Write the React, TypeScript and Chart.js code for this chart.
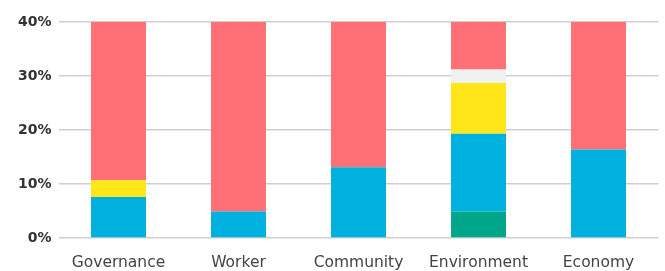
import React, { useEffect, useRef } from "react";
import { Chart, registerables } from "chart.js";

Chart.register(...registerables);

const categories = ["Governance", "Worker", "Community", "Environment", "Economy"];
const greenValues = [0, 0, 0, 4.9, 0];
const blueValues = [7.6, 4.9, 13.1, 14.4, 16.4];
const yellowValues = [3.1, 0, 0, 9.4, 0];
const greyValues = [0, 0, 0, 2.5, 0];
const redValues = [89.3, 95.1, 86.9, 68.8, 83.6];
const yTicks = [0, 10, 20, 30, 40];

export default function App() {
  const ref = useRef<HTMLCanvasElement | null>(null);
  useEffect(() => {
    document.body.style.margin = "0";
    const ctx = ref.current!;
    const mk = (label: string, data: number[], color: string) => ({
      label,
      data,
      backgroundColor: color,
      borderWidth: 0,
      categoryPercentage: 1,
      barPercentage: 0.458,
    });
    const chart = new Chart(ctx, {
      type: "bar",
      data: {
        labels: categories,
        datasets: [
          mk("green", greenValues, "#00a68a"),
          mk("blue", blueValues, "#00b0df"),
          mk("yellow", yellowValues, "#ffe619"),
          mk("grey", greyValues, "#eff0f0"),
          mk("red", redValues, "#ff6f76"),
        ],
      },
      options: {
        animation: false,
        responsive: false,
        maintainAspectRatio: false,
        layout: { padding: { top: 22, right: 6.5, left: 0, bottom: 0 } },
        plugins: { legend: { display: false }, tooltip: { enabled: false } },
        scales: {
          x: {
            stacked: true,
            grid: { display: false },
            border: { display: false },
            ticks: {
              color: "#444",
              font: { family: "'DejaVu Sans'", size: 15.5 },
              padding: 8,
            },
            afterFit: (s: any) => {
              s.height = 33;
            },
          },
          y: {
            stacked: true,
            min: 0,
            max: 40,
            afterBuildTicks: (s: any) => {
              s.ticks = yTicks.map((v) => ({ value: v }));
            },
            grid: { color: "#cfcfcf", lineWidth: 1.5, drawTicks: false },
            border: { display: false },
            ticks: {
              color: "#333",
              font: { family: "'DejaVu Sans'", size: 14, weight: "bold" },
              padding: 7,
              callback: (v: any) => v + "%",
            },
            afterFit: (s: any) => {
              s.width = 58.5;
            },
          },
        },
      },
    });
    return () => chart.destroy();
  }, []);
  return (
    <div style={{ position: "absolute", left: 0, top: 0, width: 665, height: 271 }}>
      <canvas ref={ref} width={665} height={271} />
    </div>
  );
}
